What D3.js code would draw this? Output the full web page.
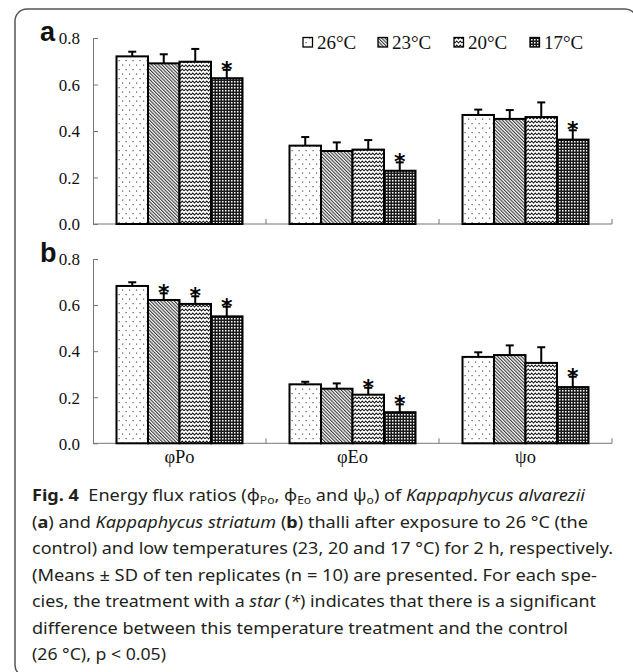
<!DOCTYPE html>
<html>
<head>
<meta charset="utf-8">
<script src="https://cdn.jsdelivr.net/npm/d3@7"></script>
<style>
  body { margin: 0; background: #fff; }
  svg { display: block; }
</style>
</head>
<body>
<div id="chart"></div>
<script>
// categories, series and ticks
const categories = ['φPo', 'φEo', 'ψo'];
const temps = ['26°C', '23°C', '20°C', '17°C'];
const yTicks = [0, 0.2, 0.4, 0.6, 0.8];

// panel a: Kappaphycus alvarezii (rows = categories, cols = temps)
const meanA = [
  [0.721, 0.691, 0.698, 0.627],
  [0.337, 0.314, 0.320, 0.229],
  [0.469, 0.452, 0.460, 0.363],
];
const sdA = [
  [0.020, 0.039, 0.055, 0.036],
  [0.037, 0.037, 0.041, 0.036],
  [0.023, 0.038, 0.063, 0.040],
];
const starA = [
  [0, 0, 0, 1],
  [0, 0, 0, 1],
  [0, 0, 0, 1],
];

// panel b: Kappaphycus striatum
const meanB = [
  [0.683, 0.622, 0.605, 0.551],
  [0.256, 0.237, 0.211, 0.135],
  [0.375, 0.383, 0.349, 0.244],
];
const sdB = [
  [0.016, 0.029, 0.033, 0.042],
  [0.011, 0.023, 0.030, 0.034],
  [0.020, 0.042, 0.068, 0.045],
];
const starB = [
  [0, 1, 1, 1],
  [0, 0, 1, 1],
  [0, 0, 0, 1],
];

const svgWidth = 633;
const svgHeight = 672;
const serif = '"Liberation Serif", "Times New Roman", serif';

const svg = d3
  .select('#chart')
  .append('svg')
  .attr('width', svgWidth)
  .attr('height', svgHeight);

// fill patterns for the four temperatures
const defs = svg.append('defs');

const p26 = defs.append('pattern').attr('id', 'pat0')
  .attr('patternUnits', 'userSpaceOnUse').attr('width', 7).attr('height', 9);
p26.append('rect').attr('width', 7).attr('height', 9).attr('fill', '#fff');
p26.append('rect').attr('x', 1).attr('y', 1.5).attr('width', 1.2).attr('height', 1.2).attr('fill', '#555');
p26.append('rect').attr('x', 4.5).attr('y', 6).attr('width', 1.2).attr('height', 1.2).attr('fill', '#555');

const p23 = defs.append('pattern').attr('id', 'pat1')
  .attr('patternUnits', 'userSpaceOnUse').attr('width', 2.4).attr('height', 2.4)
  .attr('patternTransform', 'rotate(-45)');
p23.append('rect').attr('width', 2.4).attr('height', 2.4).attr('fill', '#fff');
p23.append('line').attr('x1', 0.6).attr('x2', 0.6).attr('y1', 0).attr('y2', 2.4)
  .attr('stroke', '#222').attr('stroke-width', 1);

const p20 = defs.append('pattern').attr('id', 'pat2')
  .attr('patternUnits', 'userSpaceOnUse').attr('width', 7).attr('height', 4);
p20.append('rect').attr('width', 7).attr('height', 4).attr('fill', '#fff');
p20.append('path')
  .attr('d', 'M0,3 L1.75,1 L3.5,3 L5.25,1 L7,3')
  .attr('fill', 'none').attr('stroke', '#111').attr('stroke-width', 1.1);

const p17 = defs.append('pattern').attr('id', 'pat3')
  .attr('patternUnits', 'userSpaceOnUse').attr('width', 3).attr('height', 3);
p17.append('rect').attr('width', 3).attr('height', 3).attr('fill', '#1a1a1a');
p17.append('rect').attr('width', 1.5).attr('height', 1.5).attr('fill', '#fff');

// outer frame
svg.append('rect')
  .attr('x', 15).attr('y', 9)
  .attr('width', 622).attr('height', 668)
  .attr('rx', 12)
  .attr('fill', 'none')
  .attr('stroke', '#555')
  .attr('stroke-width', 1.5);

// shared x scales
const xScale = d3.scaleBand().domain(categories).range([93, 612]);
const xInner = d3.scaleBand().domain(temps).range([23.5, xScale.bandwidth() - 23.5]);

function drawPanel(letter, means, sds, stars, yTop, yBottom) {
  const yScale = d3.scaleLinear().domain([0, 0.8]).range([yBottom, yTop]);
  const g = svg.append('g');

  // y axis (ticks pointing inward)
  const leftAxis = d3.axisLeft(yScale)
    .tickValues(yTicks)
    .tickFormat(d3.format('.1f'))
    .tickSizeInner(-5)
    .tickSizeOuter(0)
    .tickPadding(13);
  const yAxis = g.append('g')
    .attr('transform', 'translate(93,0)')
    .call(leftAxis);
  yAxis.attr('font-family', null).attr('font-size', null);
  yAxis.select('.domain').attr('stroke', '#777');
  yAxis.selectAll('.tick line').attr('stroke', '#777');
  yAxis.selectAll('.tick text')
    .style('font-family', serif)
    .style('font-size', '17px')
    .attr('fill', '#111')
    .attr('dy', '0.34em');

  // x axis line with upward ticks at category boundaries
  g.append('line')
    .attr('x1', 93).attr('x2', 612)
    .attr('y1', yBottom).attr('y2', yBottom)
    .attr('stroke', '#777');
  g.selectAll('.xtick')
    .data(categories)
    .enter()
    .append('line')
    .attr('x1', (d) => xScale(d) + xScale.bandwidth())
    .attr('x2', (d) => xScale(d) + xScale.bandwidth())
    .attr('y1', yBottom).attr('y2', yBottom - 5)
    .attr('stroke', '#777');

  // bars
  categories.forEach((cat, ci) => {
    const cg = g.append('g').attr('transform', `translate(${xScale(cat)},0)`);
    temps.forEach((t, ti) => {
      const v = means[ci][ti];
      const x0 = xInner(t);
      const w = xInner.bandwidth();
      const cx = x0 + w / 2;
      const top = yScale(v);
      const errTop = yScale(v + sds[ci][ti]);

      // error bar (upper half only)
      cg.append('line')
        .attr('x1', cx).attr('x2', cx)
        .attr('y1', top).attr('y2', errTop)
        .attr('stroke', '#000').attr('stroke-width', 2);
      cg.append('line')
        .attr('x1', cx - 4).attr('x2', cx + 4)
        .attr('y1', errTop).attr('y2', errTop)
        .attr('stroke', '#000').attr('stroke-width', 2);

      cg.append('rect')
        .attr('x', x0).attr('y', top)
        .attr('width', w).attr('height', yBottom - top)
        .attr('fill', `url(#pat${ti})`)
        .attr('stroke', '#000')
        .attr('stroke-width', 2);

      if (stars[ci][ti]) {
        cg.append('text')
          .attr('x', cx)
          .attr('y', errTop + 7)
          .attr('text-anchor', 'middle')
          .attr('font-family', '"DejaVu Sans", sans-serif')
          .attr('font-weight', 'bold')
          .attr('font-size', 22)
          .attr('fill', '#000')
          .text('*');
      }
    });
  });

  // panel letter
  g.append('text')
    .attr('x', 40)
    .attr('y', yTop + 3)
    .attr('font-family', '"Liberation Sans", Arial, sans-serif')
    .attr('font-weight', 'bold')
    .attr('font-size', 27)
    .attr('fill', '#111')
    .text(letter);

  return yScale;
}

drawPanel('a', meanA, sdA, starA, 38, 224);
drawPanel('b', meanB, sdB, starB, 259, 443.3);

// category labels under panel b
svg.selectAll('.catLabel')
  .data(categories)
  .enter()
  .append('text')
  .attr('x', (d) => xScale(d) + xScale.bandwidth() / 2)
  .attr('y', 463)
  .attr('text-anchor', 'middle')
  .attr('font-family', serif)
  .attr('font-size', 18.5)
  .attr('fill', '#111')
  .text((d) => d);

// legend
const legendX = [303, 378, 454, 530];
const legend = svg.append('g');
temps.forEach((t, i) => {
  legend.append('rect')
    .attr('x', legendX[i]).attr('y', 37.5)
    .attr('width', 9.5).attr('height', 9.5)
    .attr('fill', `url(#pat${i})`)
    .attr('stroke', '#000')
    .attr('stroke-width', 1.3);
  legend.append('text')
    .attr('x', legendX[i] + 14)
    .attr('y', 48.5)
    .attr('font-family', serif)
    .attr('font-size', 19)
    .attr('fill', '#111')
    .text(t);
});

// caption
const capFont = '"Noto Sans", "Open Sans", sans-serif';
const capLines = [
  { w: 553, parts: [
    { t: 'Fig. 4', b: 1 }, { t: '\u00a0\u00a0Energy flux ratios (φ' }, { t: 'Po', sub: 1 },
    { t: ', φ' }, { t: 'Eo', sub: 1 }, { t: ' and ψ' }, { t: 'o', sub: 1 },
    { t: ') of ' }, { t: 'Kappaphycus alvarezii', i: 1 } ] },
  { w: 556, parts: [
    { t: '(' }, { t: 'a', b: 1 }, { t: ') and ' }, { t: 'Kappaphycus striatum', i: 1 },
    { t: ' (' }, { t: 'b', b: 1 }, { t: ') thalli after exposure to 26 °C (the' } ] },
  { w: 581, parts: [{ t: 'control) and low temperatures (23, 20 and 17 °C) for 2 h, respectively.' }] },
  { w: 565, parts: [{ t: '(Means ± SD of ten replicates (n = 10) are presented. For each spe-' }] },
  { w: 564, parts: [
    { t: 'cies, the treatment with a ' }, { t: 'star', i: 1 }, { t: ' (' }, { t: '*', i: 1 },
    { t: ') indicates that there is a significant' } ] },
  { w: 536, parts: [{ t: 'difference between this temperature treatment and the control' }] },
  { w: 134, parts: [{ t: '(26 °C), p < 0.05)' }] },
];
const capBase = [501, 527.5, 554, 580.5, 607, 633.5, 660];

capLines.forEach((line, li) => {
  const txt = svg.append('text')
    .attr('x', 32)
    .attr('y', capBase[li])
    .attr('font-family', capFont)
    .attr('font-size', 16.5)
    .attr('fill', '#231f20')
    .attr('textLength', line.w)
    .attr('lengthAdjust', 'spacingAndGlyphs');
  line.parts.forEach((p, pi) => {
    const ts = txt.append('tspan').text(p.t);
    if (p.b) ts.attr('font-weight', 'bold');
    if (p.i) ts.attr('font-style', 'italic');
    if (p.sub) ts.attr('font-size', 11).attr('dy', 3);
    // undo the subscript shift on the following part
    const prev = pi > 0 ? line.parts[pi - 1] : null;
    if (prev && prev.sub && !p.sub) ts.attr('dy', -3);
  });
});
</script>
</body>
</html>
